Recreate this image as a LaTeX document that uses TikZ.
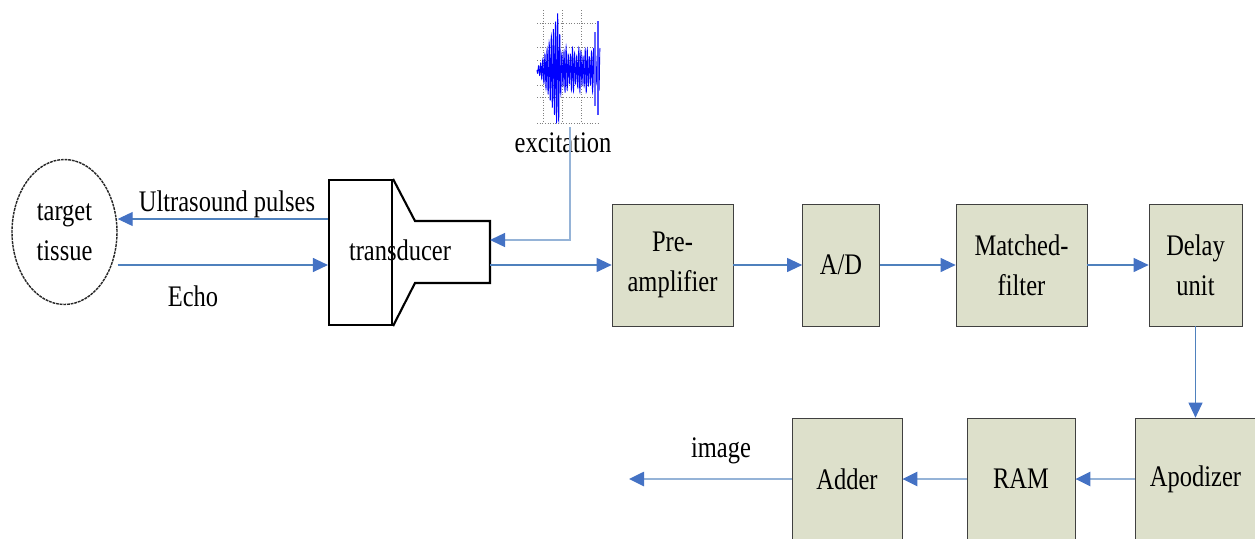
\documentclass[tikz,border=0pt]{standalone}
\usepackage{fontspec}
\setmainfont{Liberation Serif}[FakeStretch=0.82]
\usetikzlibrary{arrows.meta, shapes.geometric}

\definecolor{boxfill}{RGB}{221,224,203}
\definecolor{arrblue}{RGB}{68,114,196}
\definecolor{lineblue}{RGB}{79,129,189}
\definecolor{paleblue}{RGB}{149,179,215}

\tikzset{
    lbl/.style={font=\fontsize{17}{22.7}\selectfont, align=center},
    box/.style={lbl, draw=black!75, fill=boxfill, minimum height=2.44cm, inner sep=0pt},
    arr/.style={draw=lineblue, line width=0.6pt, -{Triangle[length=3mm, width=2.8mm, color=arrblue]}},
    lowarr/.style={arr, draw=paleblue, line width=1.5pt},
    grid line/.style={gray, densely dotted, line width=0.5pt}
}

\begin{document}
\begin{tikzpicture}[x=0.02cm, y=-0.02cm]
    \useasboundingbox (0,0) rectangle (1255,538);
    \clip (0,0) rectangle (1255,538);

    % target tissue
    \node[lbl, draw=black!85, dash pattern={on 1.6pt off 0.5pt}, line width=0.8pt, ellipse, minimum width=2.1cm, minimum height=2.9cm] (tissue) at (64.5,232) {target\\tissue};

    % transducer: body and horn
    \node[draw, line width=1.2pt, minimum width=1.26cm, minimum height=2.9cm, inner sep=0pt] (trans) at (360.5,252.5) {};
    \draw[line width=1.2pt] (trans.north east) -- (415,221) -- (490,221) -- (490,283) -- (415,283) -- (trans.south east);
    \coordinate (hornE) at (490,252);
    \node[lbl] (translbl) at (400,250) {transducer};

    % pulses and echo
    \draw[arr] (trans.west |- 0,219) -- (tissue.east |- 0,219);
    \node[lbl] (uslbl) at (227,204) {Ultrasound pulses};
    \draw[arr] (tissue.east |- 0,265) -- (trans.west |- 0,265);
    \node[lbl] (echolbl) at (193,296) {Echo};

    % excitation waveform
    \foreach \gx in {543,562,581}
        \draw[grid line] (\gx,10) -- (\gx,123);
    \foreach \gy in {23,47,60,72,85,97,123}
        \draw[grid line] (537,\gy) -- (600,\gy);
    \begin{scope}[shift={(537,70)}]
        \draw[blue, line width=0.5pt] plot[domain=0:63, samples=700]
            (\x, {((\x<21) ? (3+55*(\x/21)*sqrt(\x/21)) : ((22+36/(1+((\x-21)/1.5)*((\x-21)/1.5)))*(0.8+0.2*sin(\x*53))))*sin(\x*170)});
        \draw[blue!70, line width=1pt] (61,-49) -- (61,45);
        \draw[blue!60, line width=0.8pt] (58,-38) -- (58,36);
    \end{scope}
    \node[lbl] (exclbl) at (563,143) {excitation};
    \coordinate (exc) at (570,127);
    \draw[arr, draw=paleblue, line width=0.8pt] (exc) |- (hornE |- 0,240);

    % receive chain
    \node[box, minimum width=2.42cm] (pre) at (672.5,265) {Pre-\\amplifier};
    \node[box, minimum width=1.54cm] (ad) at (841,265) {A/D};
    \node[box, minimum width=2.62cm] (mf) at (1021.5,265) {Matched-\\filter};
    \node[box, minimum width=1.86cm] (delay) at (1195.5,265) {Delay\\unit};
    \node[box, minimum width=2.4cm] (apod) at (1195.5,479) {Apodizer};
    \node[box, minimum width=2.16cm] (ram) at (1021,479) {RAM};
    \node[box, minimum width=2.2cm] (adder) at (847,479) {Adder};
    \coordinate (img) at (629,479);
    \node[lbl] (imglbl) at (721,451) {image};

    \draw[arr] (hornE |- 0,265) -- (pre.west);
    \draw[arr] (pre) -- (ad);
    \draw[arr] (ad) -- (mf);
    \draw[arr] (mf) -- (delay);
    \draw[arr] (delay) -- (apod);
    \draw[lowarr] (apod) -- (ram);
    \draw[lowarr] (ram) -- (adder);
    \draw[lowarr] (adder) -- (img);
\end{tikzpicture}
\end{document}
